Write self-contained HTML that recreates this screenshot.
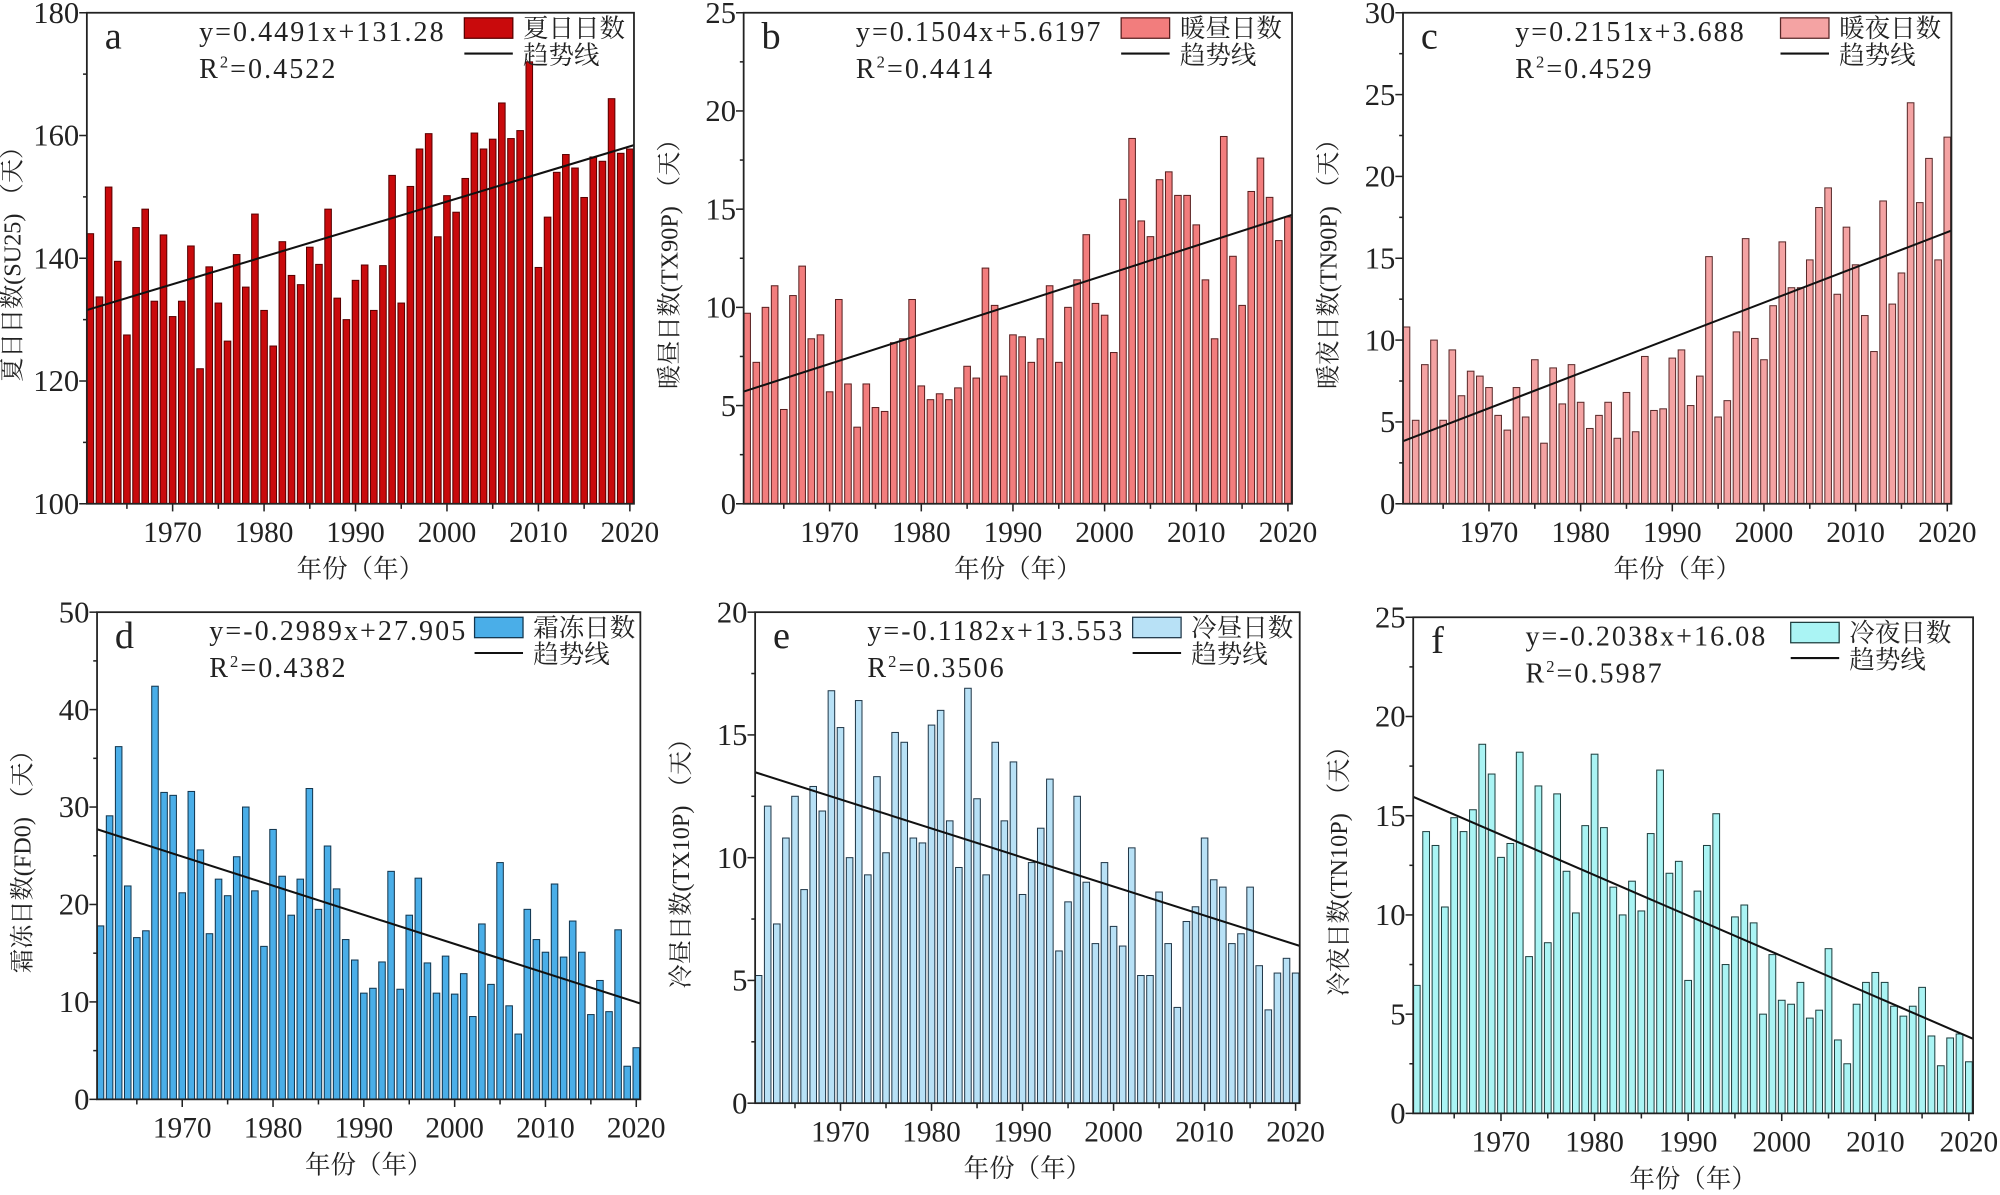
<!DOCTYPE html>
<html><head><meta charset="utf-8"><style>
html,body{margin:0;padding:0;background:#fff;}
svg{display:block;}
text{font-family:"Liberation Serif","Noto Serif CJK SC","Noto Sans CJK SC",serif;fill:#222;}
</style></head><body>
<svg id="fig" width="2000" height="1195" viewBox="0 0 1568 937" xmlns="http://www.w3.org/2000/svg"></svg>
<script>
const years = Array.from({length:60},(_,i)=>1961+i);
const suValues = [144,133.7,151.6,139.5,127.5,145,148,133,143.8,130.5,133,142,122,138.6,132.7,126.5,140.6,135.3,147.2,131.5,125.7,142.7,137.2,135.7,141.8,139,148,133.5,130,136.4,138.9,131.5,138.8,153.5,132.7,151.7,157.8,160.3,143.5,150.2,147.5,153,160.4,157.8,159.4,165.3,159.5,160.8,172,138.5,146.7,154,156.9,154.7,149.9,156.5,155.8,166,157.1,157.8];
const tx90Values = [9.7,7.2,10,11.1,4.8,10.6,12.1,8.4,8.6,5.7,10.4,6.1,3.9,6.1,4.9,4.7,8.2,8.4,10.4,6,5.3,5.6,5.3,5.9,7,6.4,12,10.1,6.5,8.6,8.5,7.2,8.4,11.1,7.2,10,11.4,13.7,10.2,9.6,7.7,15.5,18.6,14.4,13.6,16.5,16.9,15.7,15.7,14.2,11.4,8.4,18.7,12.6,10.1,15.9,17.6,15.6,13.4,14.6];
const tn90Values = [10.8,5.1,8.5,10,5.1,9.4,6.6,8.1,7.8,7.1,5.4,4.5,7.1,5.3,8.8,3.7,8.3,6.1,8.5,6.2,4.6,5.4,6.2,4,6.8,4.4,9,5.7,5.8,8.9,9.4,6,7.8,15.1,5.3,6.3,10.5,16.2,10.1,8.8,12.1,16,13.2,13.2,14.9,18.1,19.3,12.8,16.9,14.6,11.5,9.3,18.5,12.2,14.1,24.5,18.4,21.1,14.9,22.4];
const fdValues = [17.8,29.1,36.2,21.9,16.6,17.3,42.4,31.5,31.2,21.2,31.6,25.6,17,22.6,20.9,24.9,30,21.4,15.7,27.7,22.9,18.9,22.6,31.9,19.5,26,21.6,16.4,14.3,10.9,11.4,14.1,23.4,11.3,18.9,22.7,14,10.9,14.7,10.8,12.9,8.5,18,11.8,24.3,9.6,6.7,19.5,16.4,15.1,22.1,14.6,18.3,15.1,8.7,12.2,9,17.4,3.4,5.3];
const tx10Values = [5.2,12.1,7.3,10.8,12.5,8.7,12.9,11.9,16.8,15.3,10,16.4,9.3,13.3,10.2,15.1,14.7,10.8,10.6,15.4,16,11.5,9.6,16.9,12.4,9.3,14.7,11.5,13.9,8.5,9.8,11.2,13.2,6.2,8.2,12.5,9,6.5,9.8,7.2,6.4,10.4,5.2,5.2,8.6,6.5,3.9,7.4,8,10.8,9.1,8.8,6.5,6.9,8.8,5.6,3.8,5.3,5.9,5.3];
const tn10Values = [6.45,14.2,13.5,10.4,14.9,14.2,15.3,18.6,17.1,12.9,13.6,18.2,7.9,16.5,8.6,16.1,12.2,10.1,14.5,18.1,14.4,11.4,10,11.7,10.2,14.1,17.3,12.1,12.7,6.7,11.2,13.5,15.1,7.5,9.9,10.5,9.6,5,8,5.7,5.5,6.6,4.8,5.2,8.3,3.7,2.5,5.5,6.6,7.1,6.6,5.4,4.9,5.4,6.35,3.9,2.4,3.8,4,2.6];
const xTicks = [1970,1980,1990,2000,2010,2020];
const yTicksA = [100,120,140,160,180];
const yTicksB = [0,5,10,15,20,25];
const yTicksC = [0,5,10,15,20,25,30];
const yTicksD = [0,10,20,30,40,50];
const yTicksE = [0,5,10,15,20];
const yTicksF = [0,5,10,15,20,25];
const slopes = [0.4491,0.1504,0.2151,-0.2989,-0.1182,-0.2038];
const intercepts = [131.28,5.6197,3.688,27.905,13.553,16.08];

const panels = [
 {id:'a',L:68,R:497,T:10,B:395,ymin:100,ymax:180,minor:10,ticks:yTicksA,vals:suValues,fill:'#c90a0c',stroke:'#5a0000',ylabel:'夏日日数(SU25) （天）',leg:'夏日日数',eq:'y=0.4491x+131.28',r2:'0.4522'},
 {id:'b',L:583,R:1013,T:10,B:395,ymin:0,ymax:25,minor:2.5,ticks:yTicksB,vals:tx90Values,fill:'#f27d7d',stroke:'#5a2020',ylabel:'暖昼日数(TX90P) （天）',leg:'暖昼日数',eq:'y=0.1504x+5.6197',r2:'0.4414'},
 {id:'c',L:1100,R:1530,T:10,B:395,ymin:0,ymax:30,minor:2.5,ticks:yTicksC,vals:tn90Values,fill:'#f4a3a3',stroke:'#5a2a2a',ylabel:'暖夜日数(TN90P) （天）',leg:'暖夜日数',eq:'y=0.2151x+3.688',r2:'0.4529'},
 {id:'d',L:76,R:502,T:480,B:862,ymin:0,ymax:50,minor:5,ticks:yTicksD,vals:fdValues,fill:'#4aaee8',stroke:'#12364f',ylabel:'霜冻日数(FD0) （天）',leg:'霜冻日数',eq:'y=-0.2989x+27.905',r2:'0.4382'},
 {id:'e',L:592,R:1019,T:480,B:865,ymin:0,ymax:20,minor:2.5,ticks:yTicksE,vals:tx10Values,fill:'#b8e1f6',stroke:'#22394a',ylabel:'冷昼日数(TX10P) （天）',leg:'冷昼日数',eq:'y=-0.1182x+13.553',r2:'0.3506'},
 {id:'f',L:1108,R:1547,T:484,B:873,ymin:0,ymax:25,minor:2.5,ticks:yTicksF,vals:tn10Values,fill:'#aaf4f4',stroke:'#1f3f3f',ylabel:'冷夜日数(TN10P) （天）',leg:'冷夜日数',eq:'y=-0.2038x+16.08',r2:'0.5987'}
];
const NS='http://www.w3.org/2000/svg';
const svg=document.getElementById('fig');
function mk(tag,attrs,parent,txt){const e=document.createElementNS(NS,tag);for(const k in attrs)e.setAttribute(k,attrs[k]);if(txt!==undefined)e.textContent=txt;(parent||svg).appendChild(e);return e;}
const X0=1960.62,X1=2020.45;
panels.forEach((p,pi)=>{
  const g=mk('g',{});
  
  
  const xs=v=>p.L+(v-X0)/(X1-X0)*(p.R-p.L);
  const ys=v=>p.B-(v-p.ymin)/(p.ymax-p.ymin)*(p.B-p.T);
  const bw=(xs(1)-xs(0))*0.72;
  years.forEach((yr,i)=>{
    const v=p.vals[i];
    const r=mk('rect',{x:xs(yr)-bw/2,y:ys(v),width:bw,height:p.B-ys(v),fill:p.fill,stroke:p.stroke,'stroke-width':0.8},g);
    
    
  });
  const t=mk('line',{x1:p.L,y1:ys(slopes[pi]*(X0-1960)+intercepts[pi]),x2:p.R,y2:ys(slopes[pi]*(X1-1960)+intercepts[pi]),stroke:'#111','stroke-width':1.6},g);
  
  
  const f=mk('rect',{x:p.L,y:p.T,width:p.R-p.L,height:p.B-p.T,fill:'none',stroke:'#222','stroke-width':1.4},g);
  
  
  for(let v=p.ymin;v<=p.ymax+1e-6;v+=p.minor){
    const major=p.ticks.some(tk=>Math.abs(tk-v)<1e-6);
    mk('line',{x1:p.L-(major?6:3),x2:p.L,y1:ys(v),y2:ys(v),stroke:'#222','stroke-width':1.2},g);
  }
  p.ticks.forEach(v=>{
    const tl=mk('text',{x:p.L-6,y:ys(v)+8,'text-anchor':'end','font-size':24},g,String(v));
    
    
  });
  for(let yr=1965;yr<=2020;yr+=5){
    const major=yr%10===0;
    mk('line',{x1:xs(yr),x2:xs(yr),y1:p.B,y2:p.B+(major?6:4),stroke:'#222','stroke-width':1.2},g);
  }
  xTicks.forEach(yr=>{
    const tl=mk('text',{x:xs(yr),y:p.B+30,'text-anchor':'middle','font-size':23},g,String(yr));
    
    
  });
  const xt=mk('text',{x:(p.L+p.R)/2,y:p.B+58,'text-anchor':'middle','font-size':20},g,'年份（年）');
  
  
  const cy=(p.T+p.B)/2, cx=p.L-52;
  const yt=mk('text',{x:cx,y:cy,'text-anchor':'middle','font-size':19,transform:`rotate(-90 ${cx} ${cy})`},g,p.ylabel);
  
  
  const pl=mk('text',{x:p.L+14,y:p.T+28,'font-size':30},g,p.id);
  
  
  const eq=mk('text',{x:p.L+88,y:p.T+22,'font-size':22,'letter-spacing':'1.6'},g,p.eq);
  
  
  const r2=mk('text',{x:p.L+88,y:p.T+51,'font-size':22,'letter-spacing':'1.6'},g);
  
  
  mk('tspan',{},r2,'R');mk('tspan',{dy:-8,'font-size':13},r2,'2');mk('tspan',{dy:8},r2,'='+p.r2);
  const lx=p.L+296;
  const lb=mk('rect',{x:lx,y:p.T+4,width:38,height:16,fill:p.fill,stroke:p.stroke,'stroke-width':1},g);
  
  
  const lt=mk('text',{x:lx+46,y:p.T+19,'font-size':20},g,p.leg);
  
  
  const ll=mk('line',{x1:lx,x2:lx+38,y1:p.T+32,y2:p.T+32,stroke:'#111','stroke-width':1.6},g);
  
  
  const lt2=mk('text',{x:lx+46,y:p.T+40,'font-size':20},g,'趋势线');
  
  
});
</script>
</body></html>
